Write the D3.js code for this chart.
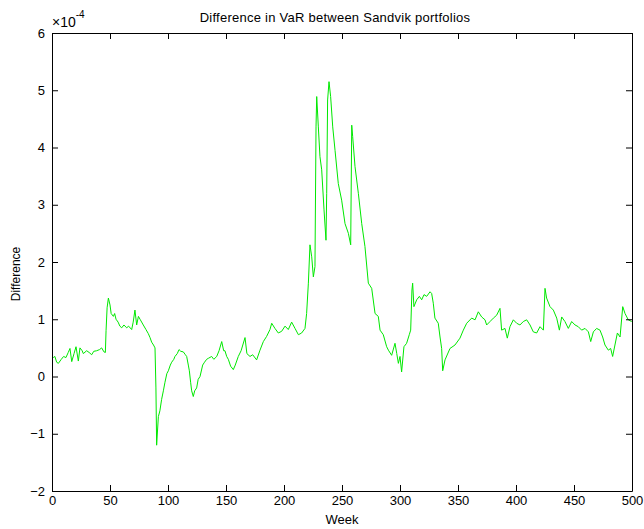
<!DOCTYPE html>
<html>
<head>
<meta charset="utf-8">
<script src="https://cdn.jsdelivr.net/npm/d3@7"></script>
<style>
  body { margin: 0; background: #fff; }
  text { font-family: "Liberation Sans", Arial, sans-serif; fill: #000; }
</style>
</head>
<body>
<div class="chart"></div>
<script>
// values, difference in units of 1e-4
var weeks = [1, 2.5, 4, 5.5, 8, 10, 12, 14, 15.5, 17, 19, 20.7, 22.7, 24.1, 26, 27, 29.9, 32, 34.2, 36, 38.5, 41, 42.8, 44.8, 46,
  46.6, 47.5, 48.6, 50, 51, 52.9, 54, 55.2, 57, 58.5, 60.1, 62, 64.4, 66, 68.7, 70, 71.5, 73, 74.5, 75.9, 78.7, 81, 83, 84.5,
  85.9, 87.5, 88.8, 89.6, 90.2, 91.7, 93, 94.5, 96, 97.4, 99, 100.3, 102, 103.2, 105, 106, 108, 109.5, 111, 113.2, 115, 116.1,
  117.5, 118.4, 119.5, 120.4, 121.8, 123, 124.7, 126, 127.6, 129.9, 131.5, 133.3, 135, 137.6, 139.5, 142, 144, 146.3, 148,
  149.1, 150.6, 152, 154, 156.3, 158, 160.6, 163, 166.4, 168, 170.7, 173, 176.4, 179.3, 182.2, 185, 187.9, 189.4, 192.2,
  195.1, 198, 200.9, 203.7, 206.6, 209.5, 212.4, 215.2, 218.1, 219.5, 221, 222.4, 223.9, 225.3, 226.7, 227.6, 228.2, 229.6,
  231, 232.5, 234.5, 236.2, 236.8, 237.6, 238.8, 240.2, 242, 244, 246.8, 249.7, 252.6, 255.5, 257.5, 258.4, 259.2, 261.2,
  264.1, 267, 269.8, 272.7, 275.6, 278.5, 281.3, 282.8, 285.6, 288.5, 290, 292.8, 295.7, 297.2, 298.6, 300, 301.4, 303.4,
  305.7, 308, 309.2, 310.3, 310.9, 312, 314.4, 316.7, 318.7, 320.7, 323, 325.9, 327.3, 328.7, 330.1, 333, 334.5, 335.9,
  336.8, 338.8, 343.1, 347.4, 351.7, 354.6, 357.5, 361.8, 364.7, 367.5, 370.4, 373.3, 374.7, 377.6, 380.5, 383.3, 386.2,
  387.6, 390.5, 392.5, 394.8, 397.7, 400.6, 403.4, 406.3, 409.2, 412.1, 414.9, 417.8, 420.7, 423.6, 425, 426.4, 429.3,
  432.2, 435.1, 437.4, 439.4, 442.2, 445.1, 448, 450.9, 453.7, 456.6, 459.5, 462.4, 464.4, 466.7, 469.5, 472.4, 474.7,
  476.7, 479.6, 481.6, 483.3, 485.3, 487.4, 489.7, 492, 494, 496.8, 499.7];
var diffs = [0.33, 0.35, 0.25, 0.23, 0.3, 0.35, 0.33, 0.42, 0.49, 0.26, 0.4, 0.52, 0.27, 0.5, 0.45, 0.4, 0.45, 0.42, 0.38, 0.44, 0.45, 0.47, 0.5, 0.43, 0.42,
  0.8, 1.2, 1.37, 1.25, 1.1, 1.05, 1.1, 1.0, 0.95, 0.88, 0.85, 0.9, 0.85, 0.88, 0.82, 0.95, 1.16, 0.9, 1.05, 1.0, 0.9, 0.82, 0.75, 0.68,
  0.6, 0.55, 0.5, -0.2, -1.2, -0.7, -0.6, -0.4, -0.25, -0.1, 0.05, 0.1, 0.2, 0.25, 0.3, 0.35, 0.4, 0.47, 0.44, 0.43, 0.38, 0.35,
  0.2, 0.1, -0.1, -0.25, -0.35, -0.25, -0.2, -0.05, 0.0, 0.2, 0.25, 0.3, 0.32, 0.35, 0.3, 0.35, 0.45, 0.61, 0.45,
  0.45, 0.35, 0.3, 0.18, 0.12, 0.2, 0.35, 0.45, 0.68, 0.4, 0.35, 0.38, 0.29, 0.46, 0.61, 0.7, 0.82, 0.93, 0.84,
  0.76, 0.79, 0.88, 0.82, 0.95, 0.84, 0.73, 0.76, 0.84, 1.1, 1.63, 2.3, 2.09, 1.74, 1.92, 4.36, 4.89, 4.36,
  3.84, 3.61, 2.91, 2.38, 3.2, 4.83, 5.15, 4.89, 4.36, 3.95, 3.37, 3.08, 2.67, 2.5, 2.3, 4.39, 4.19, 3.67,
  3.2, 2.67, 2.27, 1.63, 1.54, 1.1, 1.05, 0.81, 0.73, 0.52, 0.46, 0.37, 0.58, 0.4, 0.23, 0.35, 0.08, 0.52,
  0.58, 0.73, 0.81, 1.51, 1.63, 1.22, 1.34, 1.4, 1.34, 1.43, 1.4, 1.48, 1.45, 1.28, 1.02, 0.93, 0.69, 0.49,
  0.1, 0.29, 0.49, 0.55, 0.67, 0.81, 0.93, 1.02, 0.99, 1.13, 1.04, 0.99, 0.9, 0.96, 1.02, 1.07, 1.19,
  0.81, 0.84, 0.67, 0.87, 0.99, 0.93, 0.9, 0.96, 0.99, 0.9, 0.78, 0.76, 0.87, 0.81, 1.54, 1.37, 1.22,
  1.16, 1.02, 0.81, 1.04, 0.96, 0.84, 0.96, 0.9, 0.87, 0.81, 0.84, 0.78, 0.61, 0.78, 0.84, 0.81, 0.69,
  0.55, 0.46, 0.49, 0.35, 0.55, 0.76, 0.69, 1.22, 1.1, 0.99, 0.96];
var xTicks = [0, 50, 100, 150, 200, 250, 300, 350, 400, 450, 500];
var yTicks = [-2, -1, 0, 1, 2, 3, 4, 5, 6];

var w = 644, h = 529;
var padLeft = 52, padRight = 632, padTop = 33, padBottom = 491;

var svg = d3.select(".chart").append("svg")
            .attr("width", w)
            .attr("height", h);

var xScale = d3.scaleLinear().domain([0, 500]).range([padLeft, padRight]);
var yScale = d3.scaleLinear().domain([-2, 6]).range([padBottom, padTop]);

var dataset = weeks.map(function(d, i) { return [d, diffs[i]]; });

var line = d3.line()
             .x(function(d) { return xScale(d[0]); })
             .y(function(d) { return yScale(d[1]); });

svg.append("path")
   .datum(dataset)
   .attr("fill", "none")
   .attr("stroke", "#00e800")
   .attr("stroke-width", 1)
   .attr("stroke-linejoin", "round")
   .attr("d", line);

// ticks point inward, box on all four sides like matlab
var xAxis = d3.axisBottom(xScale).tickValues(xTicks).tickSizeInner(-6).tickSizeOuter(0).tickPadding(5);
var xTop = d3.axisTop(xScale).tickValues(xTicks).tickSizeInner(-6).tickSizeOuter(0).tickFormat("");
var yAxis = d3.axisLeft(yScale).tickValues(yTicks).tickSizeInner(-6).tickSizeOuter(0).tickPadding(7);
var yRight = d3.axisRight(yScale).tickValues(yTicks).tickSizeInner(-6).tickSizeOuter(0).tickFormat("");

function style(g) {
  g.selectAll("path, line").attr("stroke", "#000").attr("stroke-width", 1);
  g.selectAll("text").attr("font-size", 13).attr("fill", "#000")
   .style("font-family", "'Liberation Sans', Arial, sans-serif");
}

svg.append("g").attr("transform", `translate(0,${padBottom})`).call(xAxis).call(style);
svg.append("g").attr("transform", `translate(0,${padTop})`).call(xTop).call(style);
svg.append("g").attr("transform", `translate(${padLeft},0)`).call(yAxis).call(style);
svg.append("g").attr("transform", `translate(${padRight},0)`).call(yRight).call(style);

// exponent label
var ex = svg.append("text").attr("x", padLeft).attr("y", 27).attr("font-size", 14);
ex.append("tspan").text("\u00d710");
ex.append("tspan").attr("dy", -9).attr("font-size", 10).text("-4");

svg.append("text")
   .attr("x", 335)
   .attr("y", 22)
   .attr("text-anchor", "middle")
   .attr("font-size", 13)
   .attr("letter-spacing", 0.25)
   .text("Difference in VaR between Sandvik portfolios");

svg.append("text")
   .attr("x", (padLeft + padRight) / 2)
   .attr("y", 524)
   .attr("text-anchor", "middle")
   .attr("font-size", 13)
   .text("Week");

svg.append("text")
   .attr("transform", "translate(20,274) rotate(-90)")
   .attr("text-anchor", "middle")
   .attr("font-size", 12)
   .text("Difference");
</script>
</body>
</html>
